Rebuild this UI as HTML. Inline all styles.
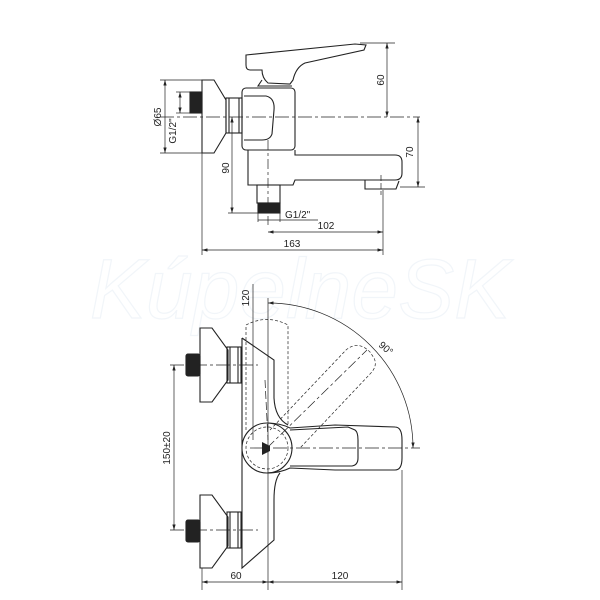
<!DOCTYPE html>
<html><head><meta charset="utf-8"><style>
html,body{margin:0;padding:0;background:#fff;}
svg{display:block}
text{font-family:"Liberation Sans",sans-serif;font-size:10px;fill:#222}
</style></head><body>
<svg width="600" height="600" viewBox="0 0 600 600" xmlns="http://www.w3.org/2000/svg">
<defs>
<marker id="a" viewBox="0 0 10 6" refX="10" refY="3" markerWidth="8" markerHeight="5" orient="auto-start-reverse"><path d="M0,0L10,3L0,6Z" fill="#222"/></marker>
</defs>
<text x="300" y="318" text-anchor="middle" style="font-size:84px;font-style:italic;fill:none;stroke:#f1f5f9;stroke-width:1.2">KúpelneSK</text>
<g fill="none" stroke="#222" stroke-width="1.1">
<path d="M202,80 L214,80 L226,100 L226,133 L214,153 L202,153 Z"/>
<rect x="190" y="92" width="12" height="21" fill="#222"/>
<rect x="226" y="98" width="16" height="35"/>
<line x1="229" y1="98" x2="229" y2="133"/><line x1="239" y1="98" x2="239" y2="133"/>
<rect x="242" y="88" width="53" height="62" rx="4"/>
<path d="M244,96 L266,96 Q275,98 274,110 L272,134 Q270,140 262,140 L244,140"/>
<path d="M246,55 L355,44 L366,45 L364,50 L305,63 Q296,67 293,80 L290,84 L268,83 Q262,78 262,70 L250,70 Q246,70 246,65 Z"/>
<path d="M262,80 L258,86 L292,86"/>
<path d="M248,150 L248,185 L293,185 L295,180 L395,180 Q402,180 402,173 L402,162 Q402,155 395,155 L295,155 L295,150"/>
<path d="M365,180 L365,189 L396,189 L399,181"/>
<rect x="257" y="185" width="23" height="18"/>
<rect x="258" y="203" width="22" height="10" fill="#222"/>
</g>
<g fill="none" stroke="#222" stroke-width="0.7">
<line x1="160" y1="117" x2="420" y2="117" stroke-dasharray="14,3,3,3"/>
<line x1="268" y1="140" x2="268" y2="225" stroke-dasharray="10,3,3,3"/>
<line x1="381" y1="175" x2="381" y2="195" stroke-dasharray="6,2"/>
<line x1="360" y1="43" x2="395" y2="43"/><line x1="387" y1="43" x2="387" y2="117" marker-start="url(#a)" marker-end="url(#a)"/>
<line x1="400" y1="187" x2="425" y2="187"/><line x1="418" y1="117" x2="418" y2="187" marker-start="url(#a)" marker-end="url(#a)"/>
<line x1="160" y1="80" x2="202" y2="80"/><line x1="160" y1="153" x2="202" y2="153"/>
<line x1="165" y1="80" x2="165" y2="153" marker-start="url(#a)" marker-end="url(#a)"/>
<line x1="176" y1="92" x2="190" y2="92"/><line x1="176" y1="113" x2="190" y2="113"/>
<line x1="180" y1="92" x2="180" y2="113" marker-start="url(#a)" marker-end="url(#a)"/>
<line x1="228" y1="213" x2="258" y2="213"/><line x1="232" y1="117" x2="232" y2="213" marker-start="url(#a)" marker-end="url(#a)"/>
<line x1="258" y1="213" x2="258" y2="222"/><line x1="280" y1="213" x2="280" y2="222"/>
<line x1="258" y1="220" x2="318" y2="220"/>
<line x1="268" y1="232" x2="383" y2="232" marker-start="url(#a)" marker-end="url(#a)"/>
<line x1="383" y1="190" x2="383" y2="255"/>
<line x1="202" y1="153" x2="202" y2="255"/>
<line x1="202" y1="250" x2="383" y2="250" marker-start="url(#a)" marker-end="url(#a)"/>
</g>
<text transform="translate(384,80) rotate(-90)" text-anchor="middle">60</text>
<text transform="translate(413,152) rotate(-90)" text-anchor="middle">70</text>
<text transform="translate(161,117) rotate(-90)" text-anchor="middle">Ø65</text>
<text transform="translate(176,131) rotate(-90)" text-anchor="middle">G1/2"</text>
<text transform="translate(229,168) rotate(-90)" text-anchor="middle">90</text>
<text x="285" y="218">G1/2"</text>
<text x="326" y="229" text-anchor="middle">102</text>
<text x="292" y="247" text-anchor="middle">163</text>
<g fill="none" stroke="#222" stroke-width="1.1">
<path d="M200,328 L212,328 L228,350 L228,380 L212,402 L200,402 Z"/>
<rect x="186" y="354" width="14" height="22" fill="#222" rx="2"/>
<rect x="227" y="347" width="14" height="36"/>
<line x1="230" y1="347" x2="230" y2="383"/><line x1="238" y1="347" x2="238" y2="383"/>
<path d="M200,495 L212,495 L228,517 L228,546 L212,568 L200,568 Z"/>
<rect x="186" y="520" width="14" height="22" fill="#222" rx="2"/>
<rect x="227" y="512" width="14" height="36"/>
<line x1="230" y1="512" x2="230" y2="548"/><line x1="238" y1="512" x2="238" y2="548"/>
<path d="M242,338 L274,360 L274,398 Q275,418 288,425"/>
<path d="M280,473 Q274,480 274,500 L274,540 L242,568 L242,338"/>
<circle cx="267" cy="448" r="25" fill="#fff"/>
<path d="M267,423 Q280,423 290,428 L335,425 L395,427 Q402,427 402,440 L402,458 Q402,470 395,470 L335,470 L290,468 Q280,473 267,473"/>
<path d="M290,430 L348,427 L355,430 Q358,432 358,440 L358,458 Q358,465 352,466 L290,466"/>
</g>
<g fill="none" stroke="#222" stroke-width="0.7">
<circle cx="267" cy="448" r="21" stroke-dasharray="3,2"/>
<path d="M246,430 L246,325 Q267,314 288,325 L288,425" stroke-dasharray="3,2"/>
<path d="M270,430 L346,350 Q358,340 370,352 L374,358 Q378,366 370,374 L300,448" stroke-dasharray="3,2"/>
<line x1="267" y1="448" x2="367" y2="350" stroke-dasharray="10,3,3,3"/>
<line x1="265" y1="380" x2="268" y2="440" stroke-dasharray="8,3"/>
<path d="M268,303 A145,145 0 0 1 413,448" marker-start="url(#a)" marker-end="url(#a)"/>
<line x1="250" y1="448" x2="420" y2="448" stroke-dasharray="14,3,3,3"/>
<line x1="170" y1="365" x2="258" y2="365" stroke-dasharray="14,3,3,3"/>
<line x1="170" y1="530" x2="258" y2="530" stroke-dasharray="14,3,3,3"/>
<line x1="174" y1="365" x2="174" y2="530" marker-start="url(#a)" marker-end="url(#a)"/>
<line x1="253" y1="284" x2="253" y2="440"/>
<line x1="268" y1="298" x2="268" y2="590"/>
<line x1="202" y1="568" x2="202" y2="590"/>
<line x1="402" y1="470" x2="402" y2="590"/>
<line x1="202" y1="582" x2="268" y2="582" marker-start="url(#a)" marker-end="url(#a)"/>
<line x1="268" y1="582" x2="402" y2="582" marker-start="url(#a)" marker-end="url(#a)"/>
</g>
<path d="M262,442 L270,446 L270,451 L262,455 Z" fill="#222"/>
<text transform="translate(249,298) rotate(-90)" text-anchor="middle">120</text>
<text transform="translate(378,346) rotate(40)">90°</text>
<text transform="translate(170,448) rotate(-90)" text-anchor="middle">150±20</text>
<text x="236" y="579" text-anchor="middle">60</text>
<text x="340" y="579" text-anchor="middle">120</text>
</svg>
</body></html>
